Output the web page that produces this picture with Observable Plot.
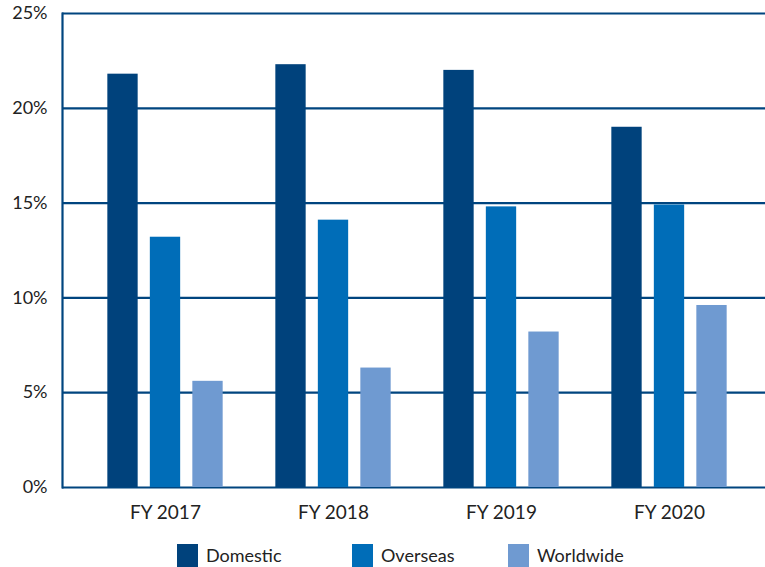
<!DOCTYPE html>
<html><head><meta charset="utf-8">
<script src="https://cdn.jsdelivr.net/npm/d3@7"></script>
<script src="https://cdn.jsdelivr.net/npm/@observablehq/plot@0.6"></script>
<style>
body{margin:0;background:#fff;font-family:Lato,"Open Sans",sans-serif;}
#wrap{position:relative;width:765px;height:567px;overflow:hidden;}
#legend{position:absolute;left:0;top:544px;width:765px;height:23px;}
.item{position:absolute;top:0;display:flex;align-items:center;font-size:18px;color:#222;line-height:23px;}
.sw{width:21px;height:23px;margin-right:8px;}
</style>
</head><body>
<div id="wrap"><div id="chart"></div><div id="legend"></div></div>
<script>
const years = ["FY 2017", "FY 2018", "FY 2019", "FY 2020"];
const series = ["Domestic", "Overseas", "Worldwide"];
const domestic = [21.8, 22.3, 22.0, 19.0];
const overseas = [13.2, 14.1, 14.8, 14.9];
const worldwide = [5.6, 6.3, 8.2, 9.6];
const yTicks = [0, 5, 10, 15, 20, 25];
const colors = ["#00427c", "#006db8", "#6f9ad1"];

const values = [domestic, overseas, worldwide];
const data = [];
series.forEach((s, i) => years.forEach((y, j) => data.push({year: y, series: s, value: values[i][j]})));

const grid = "#00457f";
const offsets = [-42.5, 0, 42.5];
const inset = (168.67 - 31) / 2;

const chart = Plot.plot({
  width: 765,
  height: 530,
  marginLeft: 62,
  marginRight: 0,
  marginTop: 13,
  marginBottom: 43,
  style: {fontFamily: "Lato, 'Open Sans', sans-serif", color: "#222", background: "#fff"},
  x: {domain: years, range: [79.67, 754.33], padding: 0},
  y: {domain: [0, 25]},
  marks: [
    Plot.ruleY(yTicks, {stroke: grid, strokeWidth: 2.2}),
    Plot.frame({anchor: "left", stroke: grid, strokeWidth: 2.2}),
    ...series.map((s, i) => Plot.barY(data.filter(d => d.series === s), {
      x: "year", y: "value", fill: colors[i], insetLeft: inset, insetRight: inset, dx: offsets[i]
    })),
    Plot.axisY({ticks: yTicks, tickFormat: d => d + "%", tickSize: 0, tickPadding: 15, fontSize: 18, label: null}),
    Plot.axisX({tickSize: 0, tickPadding: 18, fontSize: 19, label: null})
  ]
});
document.getElementById("chart").appendChild(chart);

const lefts = [177, 352, 508];
const legend = document.getElementById("legend");
series.forEach((s, i) => {
  const it = document.createElement("div");
  it.className = "item";
  it.style.left = lefts[i] + "px";
  const sw = document.createElement("span");
  sw.className = "sw";
  sw.style.background = colors[i];
  const t = document.createElement("span");
  t.textContent = s;
  it.appendChild(sw); it.appendChild(t);
  legend.appendChild(it);
});
</script>
</body></html>
